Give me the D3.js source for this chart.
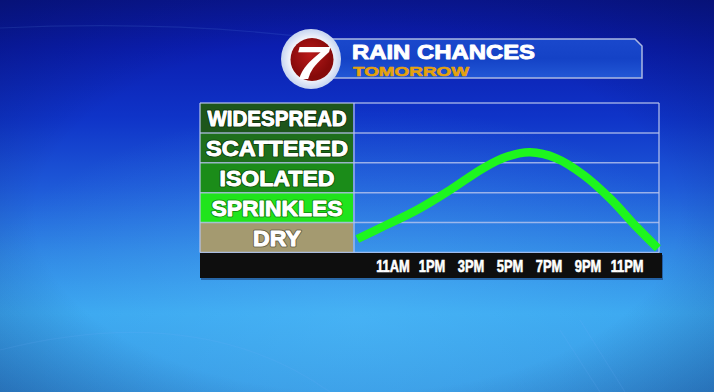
<!DOCTYPE html>
<html><head><meta charset="utf-8">
<script src="https://cdn.jsdelivr.net/npm/d3@7/dist/d3.min.js"></script>
<style>html,body{margin:0;padding:0;overflow:hidden;background:#1a50d0}svg{display:block}</style>
</head><body><div id="chart"></div>
<script>
// ---- data ----
const titleText = "RAIN CHANCES";
const subtitleText = "TOMORROW";
const logoText = "7";
const levels = ["DRY", "SPRINKLES", "ISOLATED", "SCATTERED", "WIDESPREAD"];
const tickLabels = ["11AM", "1PM", "3PM", "5PM", "7PM", "9PM", "11PM"];
const tickHours = [11, 13, 15, 17, 19, 21, 23];
const curveHours = [9.2, 10.5, 12.25, 13.95, 15.65, 16.85, 18.05, 19.4, 20.8, 22.15, 23.5, 24.6];
const curveLevels = [0.45, 0.86, 1.42, 2.09, 2.82, 3.2, 3.35, 3.15, 2.59, 1.81, 0.86, 0.14];

// ---- styles ----
const levelFills = ["#a49a70", "#20e41c", "#1b8c19", "#1e6f1c", "#1d561b"];
const labelWidths = [48, 131, 115, 142, 139];
const tickScaleX = 0.78;
const FONT = "'Liberation Sans', Arial, sans-serif";

const W = 714, H = 392;
const svg = d3.select("#chart").append("svg").attr("width", W).attr("height", H);
const defs = svg.append("defs");

// background
const bg = defs.append("linearGradient").attr("id", "bg").attr("x1", 0).attr("y1", 0).attr("x2", 0).attr("y2", 1);
[[0, "#0a1795"], [0.12, "#0b1eb0"], [0.3, "#0f34c8"], [0.48, "#1e5ad8"], [0.65, "#2f86e4"], [0.8, "#3aa6ef"], [1, "#3596e2"]]
  .forEach(([o, c]) => bg.append("stop").attr("offset", o).attr("stop-color", c));
svg.append("rect").attr("width", W).attr("height", H).attr("fill", "url(#bg)");
const glow = defs.append("radialGradient").attr("id", "glow").attr("cx", 0.5).attr("cy", 0.82).attr("r", 0.55);
glow.append("stop").attr("offset", 0).attr("stop-color", "#5cc8ff").attr("stop-opacity", 0.35);
glow.append("stop").attr("offset", 1).attr("stop-color", "#5cc8ff").attr("stop-opacity", 0);
svg.append("rect").attr("width", W).attr("height", H).attr("fill", "url(#glow)");
const vig = defs.append("radialGradient").attr("id", "vig").attr("cx", 0.5).attr("cy", 0.55).attr("r", 0.75);
vig.append("stop").attr("offset", 0.6).attr("stop-color", "#000840").attr("stop-opacity", 0);
vig.append("stop").attr("offset", 1).attr("stop-color", "#000840").attr("stop-opacity", 0.35);
svg.append("rect").attr("width", W).attr("height", H).attr("fill", "url(#vig)");

// faint decorative lines
const deco = svg.append("g").attr("stroke", "#7fb8ff").attr("stroke-opacity", 0.12).attr("fill", "none").attr("stroke-width", 1.2);
deco.append("path").attr("d", "M0,28 Q180,20 330,40");
deco.append("path").attr("d", "M560,330 L600,392 M580,320 L625,392");
deco.append("path").attr("d", "M0,350 Q200,300 330,392");

// scales
const x = d3.scaleLinear().domain([9.08, 24.66]).range([355, 659]);
const y = d3.scaleLinear().domain([0, levels.length]).range([252.5, 103]);
const labelX0 = 200, labelX1 = 353, plotRight = 659;

// label cells
const cells = svg.append("g");
cells.selectAll("rect").data(levels).join("rect")
  .attr("x", labelX0).attr("width", labelX1 - labelX0)
  .attr("y", (d, i) => y(i + 1)).attr("height", (d, i) => y(i) - y(i + 1))
  .attr("fill", (d, i) => levelFills[i]);

// grid lines
const grid = svg.append("g");
grid.selectAll("line.h").data(d3.range(levels.length + 1)).join("line").attr("class", "h")
  .attr("x1", labelX0).attr("x2", plotRight).attr("y1", d => y(d)).attr("y2", d => y(d))
  .attr("stroke", "#b9c6ee").attr("stroke-opacity", 0.8).attr("stroke-width", 1.5);
grid.selectAll("line.v").data([labelX0, labelX1 + 1, plotRight]).join("line").attr("class", "v")
  .attr("x1", d => d).attr("x2", d => d).attr("y1", y(levels.length)).attr("y2", y(0))
  .attr("stroke", "#b9c6ee").attr("stroke-opacity", 0.8).attr("stroke-width", 1.5);

// label text (dark outline layer + heavy white layer)
function labelLayer(g, strokeColor, strokeW) {
  g.selectAll("text").data(levels).join("text")
    .attr("x", (labelX0 + labelX1) / 2 + 0.5)
    .attr("y", (d, i) => (y(i) + y(i + 1)) / 2 + 8)
    .attr("text-anchor", "middle")
    .attr("font-family", FONT).attr("font-weight", "bold").attr("font-size", 22)
    .attr("fill", "#ffffff").attr("stroke", strokeColor).attr("stroke-width", strokeW)
    .attr("stroke-linejoin", "round")
    .attr("textLength", (d, i) => labelWidths[i]).attr("lengthAdjust", "spacingAndGlyphs")
    .text(d => d);
}
labelLayer(svg.append("g").attr("aria-hidden", "true"), "rgba(0,0,0,0.35)", 3);
labelLayer(svg.append("g"), "#ffffff", 0.9);

// axis bar
svg.append("rect").attr("x", 201).attr("y", 255).attr("width", 462).attr("height", 25).attr("fill", "rgba(0,0,40,0.35)");
svg.append("rect").attr("x", 200).attr("y", 253).attr("width", 462).attr("height", 25).attr("fill", "#0e0e0e");
const xAxis = d3.axisBottom(x).tickValues(tickHours).tickSize(0).tickFormat((d, i) => tickLabels[i]);
const ax = svg.append("g").attr("transform", "translate(0,257)").call(xAxis);
ax.select(".domain").remove();
ax.selectAll("text").attr("font-family", FONT).attr("font-weight", "bold")
  .attr("font-size", 16.5).attr("fill", "#ffffff").attr("stroke", "#ffffff").attr("stroke-width", 0.6)
  .attr("dy", "0.72em")
  .each(function () { const L = this.getComputedTextLength(); d3.select(this).attr("textLength", L * tickScaleX).attr("lengthAdjust", "spacingAndGlyphs"); });

// curve
const line = d3.line().x((d, i) => x(curveHours[i])).y(d => y(d)).curve(d3.curveCatmullRom.alpha(0.5));
svg.append("path").datum(curveLevels).attr("d", line)
  .attr("fill", "none").attr("stroke", "#1ef51e").attr("stroke-width", 8.5).attr("stroke-linecap", "butt");

// banner
const bn = defs.append("linearGradient").attr("id", "bn").attr("x1", 0).attr("y1", 0).attr("x2", 0).attr("y2", 1);
[[0, "#1a48cc"], [0.5, "#1442c6"], [1, "#2258d6"]].forEach(([o, c]) => bn.append("stop").attr("offset", o).attr("stop-color", c));
svg.append("path").attr("d", "M320,39 L635,39 L642,46 L642,78 L320,78 Z")
  .attr("fill", "url(#bn)").attr("stroke", "#aab8e2").attr("stroke-width", 1.5);

// logo
const lg = defs.append("radialGradient").attr("id", "lw");
lg.append("stop").attr("offset", 0.6).attr("stop-color", "#ffffff");
lg.append("stop").attr("offset", 1).attr("stop-color", "#c6d4f0");
const lr = defs.append("radialGradient").attr("id", "lr").attr("cx", 0.45).attr("cy", 0.4);
lr.append("stop").attr("offset", 0).attr("stop-color", "#b81a1a");
lr.append("stop").attr("offset", 1).attr("stop-color", "#860a0a");
svg.append("circle").attr("cx", 311).attr("cy", 59).attr("r", 30).attr("fill", "url(#lw)");
svg.append("circle").attr("cx", 312).attr("cy", 59.5).attr("r", 21.5).attr("fill", "url(#lr)");
svg.append("text").attr("x", 0).attr("y", 0)
  .attr("transform", "translate(311,79) scale(1.3,1)")
  .attr("text-anchor", "middle").attr("font-family", FONT)
  .attr("font-weight", "bold").attr("font-style", "italic").attr("font-size", 47).attr("fill", "#ffffff")
  .text(logoText);

// title
svg.append("text").attr("x", 352).attr("y", 59)
  .attr("font-family", FONT).attr("font-weight", "bold").attr("font-size", 20)
  .attr("fill", "#ffffff").attr("stroke", "#ffffff").attr("stroke-width", 0.9).attr("stroke-linejoin", "round")
  .attr("textLength", 183).attr("lengthAdjust", "spacingAndGlyphs").text(titleText);
svg.append("text").attr("x", 353).attr("y", 75.5)
  .attr("font-family", FONT).attr("font-weight", "bold").attr("font-size", 13.5)
  .attr("fill", "#e6a20c").attr("stroke", "#e6a20c").attr("stroke-width", 0.6).attr("stroke-linejoin", "round")
  .attr("textLength", 116).attr("lengthAdjust", "spacingAndGlyphs").text(subtitleText);
</script></body></html>
